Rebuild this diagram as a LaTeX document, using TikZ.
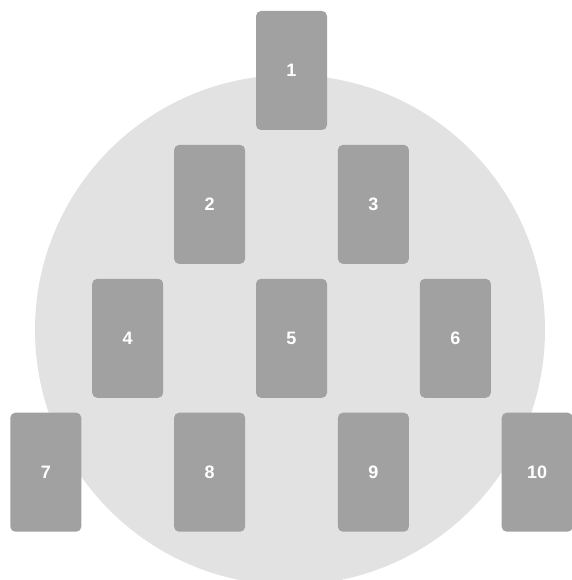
\documentclass[tikz,border=0pt]{standalone}
\usepackage{fontspec}
\newfontfamily\cardfont{Liberation Sans}
\usetikzlibrary{positioning}
\definecolor{Disc}{HTML}{E2E2E2}
\definecolor{CardGray}{HTML}{A1A1A1}
\tikzset{
  card/.style={
    rounded corners=5pt, fill=CardGray, text=white,
    minimum width=71pt, minimum height=119pt, inner sep=0pt,
    font=\cardfont\bfseries\fontsize{18}{18}\selectfont
  }
}
\begin{document}
\begin{tikzpicture}[x=1pt,y=1pt,node distance=14.5pt and 10.5pt]
        \useasboundingbox (0,0) rectangle (571,-580);
        \begin{scope}
          \clip (0,0) rectangle (571,-580);
          \fill[Disc] (290,-330) circle (255);
        \end{scope}
        \node[card] (c1) at (291.5,-70.5) {1};
        \node[card,below left=of c1] (c2) {2};
        \node[card,below right=of c1] (c3) {3};
        \node[card,below left=of c2] (c4) {4};
        \node[card,below right=of c2] (c5) {5};
        \node[card,below right=of c3] (c6) {6};
        \node[card,below left=of c4] (c7) {7};
        \node[card,below right=of c4] (c8) {8};
        \node[card,below right=of c5] (c9) {9};
        \node[card,below right=of c6] (c10) {10};
      \end{tikzpicture}
\end{document}
